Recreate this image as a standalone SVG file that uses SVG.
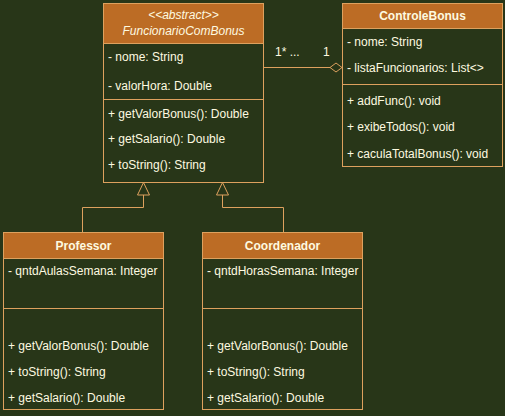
<svg xmlns="http://www.w3.org/2000/svg" width="505" height="416" viewBox="0 0 505 416">
<style>
.box{fill:#283618;stroke:#DDA15E;stroke-width:1}
.hd{fill:#BC6C25;stroke:#DDA15E;stroke-width:1}
.ln{stroke:#DDA15E;stroke-width:1;fill:none}
text{font-family:"Liberation Sans",Arial,sans-serif;font-size:12px;fill:#FEFAE0}
.t{font-weight:bold;text-anchor:middle}
.i{font-style:italic;text-anchor:middle}
</style>
<rect width="505" height="416" fill="#283618"/>
<g id="connectors">
<path class="ln" d="M263.5,67.5 H330"/>
<path d="M330,67.5 L336,63 L342,67.5 L336,72 Z" fill="#283618" stroke="#DDA15E"/>
<text x="275" y="56">1* ...</text>
<text x="323" y="56">1</text>
<path class="ln" d="M82.5,232 V207.5 H143.5 V195"/>
<path d="M143.5,182.5 L137.5,195 L149.5,195 Z" fill="#283618" stroke="#DDA15E"/>
<path class="ln" d="M283.5,232 V207.5 H222.5 V195"/>
<path d="M222.5,182.5 L216.5,195 L228.5,195 Z" fill="#283618" stroke="#DDA15E"/>
</g>
<g id="FuncionarioComBonus">
<rect class="box" x="103.5" y="3.5" width="160" height="179"/>
<rect class="hd" x="103.5" y="3.5" width="160" height="40"/>
<text class="i" x="183.5" y="19">&lt;&lt;abstract&gt;&gt;</text>
<text class="i" x="183.5" y="35">FuncionarioComBonus</text>
<text x="108" y="61">- nome: String</text>
<text x="108" y="90">- valorHora: Double</text>
<path class="ln" d="M103.5,99.5 H263.5"/>
<text x="108" y="118">+ getValorBonus(): Double</text>
<text x="108" y="143">+ getSalario(): Double</text>
<text x="108" y="169">+ toString(): String</text>
</g>
<g id="ControleBonus">
<rect class="box" x="342.5" y="3.5" width="160" height="163"/>
<rect class="hd" x="342.5" y="3.5" width="160" height="25"/>
<text class="t" x="422.5" y="20">ControleBonus</text>
<text x="347" y="46">- nome: String</text>
<text x="347" y="72">- listaFuncionarios: List&lt;&gt;</text>
<path class="ln" d="M342.5,84.5 H502.5"/>
<text x="347" y="105">+ addFunc(): void</text>
<text x="347" y="131">+ exibeTodos(): void</text>
<text x="347" y="158">+ caculaTotalBonus(): void</text>
</g>
<g id="Professor">
<rect class="box" x="3.5" y="232.5" width="160" height="177"/>
<rect class="hd" x="3.5" y="232.5" width="160" height="26"/>
<text class="t" x="83.5" y="250">Professor</text>
<text x="8" y="275">- qntdAulasSemana: Integer</text>
<path class="ln" d="M3.5,308.5 H163.5"/>
<text x="8" y="350">+ getValorBonus(): Double</text>
<text x="8" y="376">+ toString(): String</text>
<text x="8" y="402">+ getSalario(): Double</text>
</g>
<g id="Coordenador">
<rect class="box" x="202.5" y="232.5" width="160" height="177"/>
<rect class="hd" x="202.5" y="232.5" width="160" height="26"/>
<text class="t" x="282.5" y="250">Coordenador</text>
<text x="207" y="275">- qntdHorasSemana: Integer</text>
<path class="ln" d="M202.5,308.5 H362.5"/>
<text x="207" y="350">+ getValorBonus(): Double</text>
<text x="207" y="376">+ toString(): String</text>
<text x="207" y="402">+ getSalario(): Double</text>
</g>
</svg>
